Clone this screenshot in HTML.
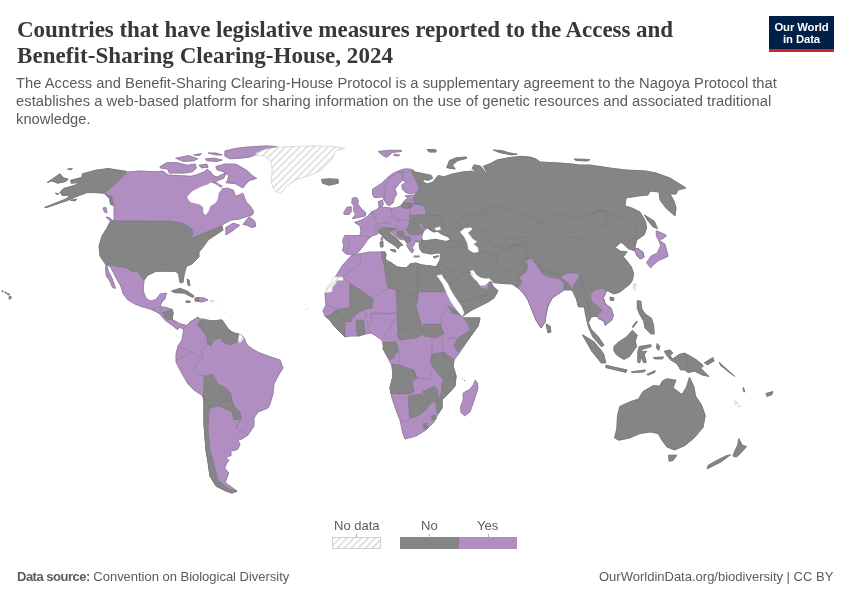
<!DOCTYPE html>
<html><head><meta charset="utf-8">
<style>
html,body{margin:0;padding:0;background:#fff;}
body{width:850px;height:600px;position:relative;overflow:hidden;font-family:"Liberation Sans",sans-serif;}
.t{position:absolute;white-space:nowrap;-webkit-font-smoothing:antialiased;will-change:transform;}
.ti{left:16.6px;font-family:"Liberation Serif",serif;font-weight:bold;font-size:23px;line-height:25px;color:#383838;letter-spacing:-0.045px;}
.su{left:15.8px;margin-top:-0.6px;transform:scaleY(1.04);transform-origin:0 0;font-size:14.75px;line-height:17px;color:#5b5b5b;}
#logo{position:absolute;left:769px;top:16px;width:65px;height:36px;background:#002147;box-sizing:border-box;}
#logo div{-webkit-font-smoothing:antialiased;will-change:transform;position:absolute;left:0;width:65px;text-align:center;color:#fff;font-weight:bold;font-size:11.3px;line-height:12px;letter-spacing:-0.1px;}
#logobar{position:absolute;left:769px;top:49px;width:65px;height:3px;background:#ce261e;}
.ft{font-size:13px;color:#5b5b5b;line-height:15px;}
.lg{font-size:13px;color:#5b5b5b;line-height:15px;}
svg{position:absolute;left:0;top:0;}
</style></head><body>
<div class="t ti" style="top:17px">Countries that have legislative measures reported to the Access and</div>
<div class="t ti" style="top:42.5px;letter-spacing:0.065px">Benefit-Sharing Clearing-House, 2024</div>
<div class="t su" style="top:75px">The Access and Benefit-Sharing Clearing-House Protocol is a supplementary agreement to the Nagoya Protocol that</div>
<div class="t su" style="top:92.75px;letter-spacing:0.03px">establishes a web-based platform for sharing information on the use of genetic resources and associated traditional</div>
<div class="t su" style="top:110.5px">knowledge.</div>
<div id="logo"><div style="top:4.5px">Our World</div><div style="top:16.8px">in Data</div></div>
<div id="logobar"></div>
<svg width="850" height="600" viewBox="0 0 850 600">
<defs><pattern id="h" patternUnits="userSpaceOnUse" width="5" height="5" patternTransform="rotate(45)"><rect width="5" height="5" fill="#fff"/><rect width="1.6" height="5" fill="#dcdcdc"/></pattern></defs>
<path d="M127.1,171.5 108.2,168.5 95.3,170.3 82.4,173.8 81.8,177.4 75.3,179.1 70.6,180.3 71.2,183.2 80.0,182.6 74.1,185.6 63.5,188.5 60.0,192.6 62.4,195.6 69.4,195.0 67.1,198.5 44.7,207.4 47.1,207.4 69.4,199.7 78.8,195.6 87.1,192.6 94.1,192.6 104.7,193.2 108.2,195.6 111.8,196.2 112.9,202.1 114.1,205.6 110.6,204.4 109.4,198.5 105.3,194.4ZM47.1,182.6 60.0,173.8 63.5,177.9 68.2,179.1 65.9,181.5 57.6,183.2 51.8,180.9ZM67.6,169.1 72.4,168.5 70.6,169.7ZM55.3,193.2 58.8,193.8 57.0,194.5ZM70.6,200.3 76.5,199.1 75.3,200.9Z" fill="#858585" stroke="#858585" stroke-width="0.9" stroke-linejoin="round"/>
<path d="M128.0,172.0 140.0,171.0 155.0,171.8 162.8,171.1 168.0,175.0 178.3,175.6 191.2,176.3 197.7,174.4 204.2,171.8 206.8,169.2 210.6,171.8 213.2,175.6 217.1,177.0 222.3,174.4 226.2,173.1 223.6,178.2 217.1,180.8 213.0,182.5 219.5,186.9 221.6,189.1 226.9,188.0 233.3,190.1 235.5,196.5 242.9,193.3 246.1,201.9 250.4,206.1 253.6,211.5 252.5,214.7 246.1,216.8 239.7,218.9 231.2,220.0 224.8,223.2 220.5,226.4 216.0,228.0 202.0,234.0 189.0,239.0 192.0,231.0 186.0,224.0 170.0,221.6 150.0,221.0 112.0,221.0 114.0,220.0 114.1,205.6 112.9,202.1 111.8,196.2 108.2,195.6 105.0,193.0ZM242.9,224.3 249.3,216.8 254.7,221.1 255.7,226.4 251.5,227.5 247.2,225.3ZM225.9,227.5 233.3,223.2 239.7,225.3 231.2,231.7 225.9,234.9ZM215.8,166.6 224.9,164.0 235.2,164.0 240.4,166.6 246.9,170.5 250.8,174.4 256.0,178.2 256.8,178.4 249.3,180.5 246.1,183.7 242.9,188.0 235.5,183.7 225.9,182.7 227.5,180.8 228.8,175.6 223.6,171.8 217.1,169.8ZM160.2,166.6 166.6,162.7 177.0,162.7 187.4,165.3 195.1,164.0 196.4,167.9 192.5,171.8 184.8,173.1 178.3,173.1 169.2,173.1 168.0,169.2 160.2,167.9ZM175.7,158.2 188.6,155.6 197.7,158.8 193.8,160.8 183.5,161.4ZM199.0,165.3 206.8,164.0 208.1,167.2 201.6,167.9ZM224.9,151.1 235.2,148.5 245.6,147.2 265.0,145.9 277.0,146.6 268.0,149.5 260.0,153.0 250.0,157.0 240.0,158.3 230.0,158.8 224.9,156.2ZM205.5,158.8 214.5,158.2 222.3,160.1 217.1,161.4 206.8,160.8ZM208.1,153.0 215.8,153.0 222.3,154.9 215.8,154.9ZM193.8,154.9 201.6,153.6 199.0,155.6ZM210.6,182.6 216.0,182.4 222.3,186.5 214.0,186.0ZM103.0,208.0 106.0,207.5 107.0,213.0 104.5,212.0ZM106.0,217.0 110.0,218.0 114.0,222.0 112.0,222.5Z" fill="#b08ec2" stroke="#b08ec2" stroke-width="0.9" stroke-linejoin="round"/>
<path d="M111.0,221.0 170.0,221.0 182.0,223.0 192.0,229.0 193.0,234.0 189.0,240.0 202.0,234.0 218.0,228.0 222.0,226.0 223.0,230.0 214.0,236.0 208.0,240.0 204.0,246.0 199.0,252.0 199.0,257.0 192.0,264.0 186.4,266.3 184.3,274.1 182.9,282.6 180.0,282.6 178.6,274.1 175.8,271.3 165.9,271.3 156.0,271.3 147.4,275.5 143.9,280.5 137.5,271.3 132.6,272.0 125.5,267.7 116.3,266.3 105.6,264.2 100.0,256.0 99.0,246.0 102.0,236.0 107.0,228.0 110.0,222.0Z" fill="#858585" stroke="#858585" stroke-width="0.9" stroke-linejoin="round"/>
<path d="M414.2,171.8 421.3,173.2 431.2,175.4 432.6,178.2 428.4,180.3 424.1,179.6 422.7,181.7 426.9,183.8 432.6,182.4 435.4,178.9 438.2,175.4 443.9,176.8 452.4,173.9 463.6,171.8 472.1,171.1 477.8,174.6 472.1,168.3 474.2,164.8 480.6,166.2 483.4,169.7 486.9,174.6 489.1,178.2 486.2,171.1 483.4,166.2 490.5,163.4 497.5,159.8 508.8,157.7 520.1,156.3 530.0,157.0 536.0,159.0 540.0,162.0 560.0,163.0 572.0,164.0 580.0,165.0 590.0,165.0 610.0,168.0 626.0,170.0 646.0,171.0 656.0,173.0 670.0,178.0 678.0,183.0 686.0,188.0 678.0,190.0 676.0,194.0 670.0,194.0 674.0,201.0 676.0,208.0 675.0,216.0 666.0,208.0 660.0,200.0 659.0,192.0 650.0,191.0 648.0,195.0 638.0,196.0 626.0,198.0 625.0,206.0 632.0,208.0 640.0,212.0 645.5,221.5 646.6,228.0 644.4,234.5 640.1,237.7 636.8,239.9 635.7,244.2 634.7,248.6 638.4,248.6 643.3,252.9 643.9,257.2 640.1,258.9 637.4,256.2 634.7,250.7 628.2,248.6 622.7,243.2 620.6,242.6 615.2,247.5 620.6,251.3 627.1,251.8 623.3,256.7 626.5,260.5 631.4,267.0 633.6,273.5 632.5,280.0 630.0,284.0 620.0,292.0 614.0,294.0 608.0,291.0 606.1,290.6 605.4,293.5 603.3,297.7 605.4,304.1 611.1,308.3 613.2,315.4 611.8,319.7 605.4,325.4 604.0,321.1 598.3,318.3 597.6,316.1 591.3,316.9 588.4,322.5 591.3,329.6 598.3,336.7 604.0,345.2 601.2,346.6 592.7,336.7 588.4,326.8 586.3,318.3 584.2,306.9 578.5,306.9 576.0,298.0 572.0,290.0 564.0,290.0 558.0,294.0 552.0,298.0 548.0,306.0 546.0,314.0 545.0,322.0 541.0,328.0 536.0,320.0 532.0,310.0 528.0,300.0 524.0,294.0 518.0,288.0 512.0,284.0 501.7,283.5 492.6,282.4 490.3,280.7 493.2,286.4 497.1,289.8 498.0,291.0 494.0,298.0 488.0,302.0 480.0,306.0 472.0,310.0 463.0,316.0 461.0,316.0 456.0,304.0 450.0,292.0 446.0,282.0 442.0,274.0 440.0,271.0 436.0,267.0 440.0,260.0 440.5,253.3 438.1,252.9 431.5,254.1 422.4,252.5 420.0,249.2 419.1,244.2 420.0,242.0 422.0,239.3 424.0,240.9 429.8,240.1 435.6,239.3 441.4,240.5 446.3,241.4 450.4,239.7 448.0,236.8 442.2,234.4 437.2,231.1 434.0,231.9 430.6,230.2 427.4,227.8 436.0,228.0 444.0,226.0 440.0,216.0 430.0,215.5 425.0,215.0 426.3,211.0 423.3,205.8 415.0,204.2 413.3,200.0 415.0,195.0 415.8,193.3 419.2,189.2 417.5,184.2 415.0,178.3 411.7,173.3 413.3,170.0ZM446.7,167.6 449.5,160.5 456.6,157.7 466.5,157.0 466.5,158.4 458.0,160.5 452.4,164.8 455.2,169.0 449.5,168.3ZM493.3,150.0 501.8,150.6 508.8,152.8 517.3,154.2 511.7,154.9 500.4,152.8ZM426.9,149.6 435.4,149.6 431.2,151.0ZM574.0,159.0 590.0,159.5 588.0,161.0 576.0,160.5ZM644.4,215.0 654.2,221.0 657.4,228.5 653.1,226.9 647.7,220.4Z" fill="#858585" stroke="#858585" stroke-width="0.9" stroke-linejoin="round"/>
<path d="M321.4,179.4 329.1,178.8 338.2,179.4 338.2,183.3 329.1,185.2 322.6,183.3Z" fill="#858585" stroke="#858585" stroke-width="0.9" stroke-linejoin="round"/>
<path d="M378.2,151.5 384.8,150.7 388.9,150.3 401.3,150.3 401.3,151.5 392.2,152.4 388.9,155.6 386.5,157.3 382.4,155.2ZM393.9,154.4 399.7,155.0 398.0,155.8 394.0,155.6Z" fill="#b08ec2" stroke="#b08ec2" stroke-width="0.9" stroke-linejoin="round"/>
<path d="M428.0,150.0 436.0,150.0 436.0,152.0 429.0,152.0Z" fill="#858585" stroke="#858585" stroke-width="0.9" stroke-linejoin="round"/>
<path d="M105.6,264.2 116.3,266.3 125.5,267.7 132.6,272.0 137.5,271.3 143.9,280.5 143.2,291.1 146.0,298.2 150.3,301.0 156.0,299.6 160.2,293.9 166.6,293.2 164.5,299.6 161.6,302.4 160.2,306.0 158.8,312.4 151.7,309.5 141.8,306.7 134.7,303.9 127.6,299.6 123.3,293.9 120.5,285.4 114.8,275.5 110.6,267.0ZM106.3,264.2 108.5,271.3 112.0,278.3 115.6,288.3 112.7,287.6 109.2,279.8 106.3,276.2 105.6,268.4Z" fill="#b08ec2" stroke="#b08ec2" stroke-width="0.9" stroke-linejoin="round"/>
<path d="M160.2,306.0 161.6,306.7 165.9,307.4 172.2,309.5 173.0,313.1 172.2,316.6 172.2,319.5 180.0,323.7 185.7,325.1 188.5,328.0 185.7,330.8 180.0,327.3 177.2,329.4 170.1,323.7 165.9,320.9 158.8,313.1 151.7,309.5Z" fill="#b08ec2" stroke="#b08ec2" stroke-width="0.9" stroke-linejoin="round"/>
<path d="M163.0,312.4 172.2,309.5 173.0,313.1 172.2,319.5 167.3,319.5 163.0,315.2Z" fill="#858585" stroke="#858585" stroke-width="0.9" stroke-linejoin="round"/>
<path d="M171.5,291.1 180.0,288.3 187.1,291.1 194.2,296.1 192.8,297.5 184.3,293.2 174.4,292.5Z" fill="#858585" stroke="#858585" stroke-width="0.9" stroke-linejoin="round"/>
<path d="M195.0,298.0 199.0,297.6 199.0,301.6 195.0,301.0Z" fill="#858585" stroke="#858585" stroke-width="0.9" stroke-linejoin="round"/>
<path d="M199.0,297.6 204.0,298.0 208.0,300.0 202.0,302.0 199.0,301.6Z" fill="#b08ec2" stroke="#b08ec2" stroke-width="0.9" stroke-linejoin="round"/>
<path d="M186.0,301.0 190.0,301.0 190.0,302.5 186.0,302.5Z" fill="#858585" stroke="#858585" stroke-width="0.9" stroke-linejoin="round"/>
<path d="M187.0,279.0 189.0,280.0 190.0,286.0 188.0,285.0Z" fill="#858585" stroke="#858585" stroke-width="0.9" stroke-linejoin="round"/>
<path d="M184.0,328.0 190.0,322.0 198.0,317.0 200.0,319.0 203.0,319.0 212.0,321.0 222.0,320.0 226.0,326.0 229.0,330.0 234.0,333.0 238.0,334.0 242.0,335.0 244.0,338.0 247.0,345.0 254.0,350.0 260.0,353.0 268.0,356.0 280.0,360.0 283.0,368.0 278.0,376.0 274.0,384.0 273.0,394.0 270.0,404.0 268.0,408.0 258.0,412.0 254.0,418.0 254.0,426.0 248.0,435.0 242.0,439.0 238.0,440.0 240.0,444.7 237.6,449.4 230.6,451.2 231.2,455.3 225.9,457.6 228.8,460.6 226.5,463.5 224.7,468.2 228.8,472.9 226.5,478.8 225.3,482.4 228.2,484.7 237.1,491.2 232.0,493.0 226.0,491.0 216.0,486.0 210.0,476.0 208.0,462.0 206.0,450.0 204.0,424.0 204.0,400.0 203.0,396.0 194.0,390.0 188.0,384.0 180.0,370.0 176.0,362.0 176.0,354.0 178.0,346.0 182.0,340.0 183.0,334.0Z" fill="#b08ec2" stroke="#b08ec2" stroke-width="0.9" stroke-linejoin="round"/>
<path d="M200.0,320.0 212.0,321.0 222.0,320.0 226.0,326.0 229.0,330.0 234.0,333.0 239.0,334.0 238.0,342.0 230.0,345.0 224.0,343.0 220.0,338.0 214.0,340.0 211.0,346.0 208.0,344.0 207.0,336.0 202.0,330.0 197.0,325.0Z" fill="#858585" stroke="#858585" stroke-width="0.9" stroke-linejoin="round"/>
<path d="M204.0,376.0 213.0,374.4 218.0,384.0 226.0,388.0 231.0,394.0 232.0,400.0 222.0,401.0 218.0,406.0 210.0,408.0 205.0,406.0 203.0,396.0 204.0,386.0Z" fill="#858585" stroke="#858585" stroke-width="0.9" stroke-linejoin="round"/>
<path d="M222.0,401.0 232.0,400.0 234.0,406.0 240.0,412.0 241.0,419.0 234.0,420.0 232.0,412.0 224.0,408.0 218.0,406.0Z" fill="#858585" stroke="#858585" stroke-width="0.9" stroke-linejoin="round"/>
<path d="M203.0,396.0 210.0,408.0 209.0,412.0 208.0,430.0 210.0,450.0 214.0,464.0 218.0,480.0 229.0,489.0 237.0,491.0 232.0,493.0 226.0,491.0 216.0,486.0 210.0,476.0 208.0,462.0 206.0,450.0 204.0,424.0 204.0,400.0Z" fill="#858585" stroke="#858585" stroke-width="0.9" stroke-linejoin="round"/>
<path d="M372.5,189.2 376.7,186.7 381.7,183.3 386.7,178.3 391.7,174.2 396.7,171.7 403.3,169.2 408.3,168.8 413.3,170.0 411.7,173.3 415.0,178.3 417.5,184.2 419.2,189.2 416.7,192.5 410.0,193.8 405.8,192.5 402.5,189.2 401.7,185.0 406.7,181.7 402.5,180.4 399.2,183.3 395.0,189.2 396.7,194.2 394.2,198.3 393.3,202.5 389.2,205.8 386.7,204.2 384.2,200.0 382.5,196.7 378.3,197.5 374.2,197.5 372.5,194.2Z" fill="#b08ec2" stroke="#b08ec2" stroke-width="0.9" stroke-linejoin="round"/>
<path d="M378.3,201.7 382.5,200.0 383.3,204.2 381.7,206.7 379.2,206.7Z" fill="#b08ec2" stroke="#b08ec2" stroke-width="0.9" stroke-linejoin="round"/>
<path d="M352.3,198.1 356.7,197.6 358.3,200.8 357.7,204.1 362.1,209.5 365.9,212.7 365.3,216.0 359.9,217.1 352.3,218.7 355.6,214.4 353.4,210.6 354.0,206.2 351.8,203.0ZM343.7,212.7 346.9,207.3 351.2,206.8 351.2,211.7 349.1,214.4 344.2,214.4Z" fill="#b08ec2" stroke="#b08ec2" stroke-width="0.9" stroke-linejoin="round"/>
<path d="M379.2,206.7 383.7,207.3 387.5,207.5 391.7,208.3 396.7,207.5 400.8,205.8 403.3,202.5 405.0,200.0 408.3,198.3 405.0,195.8 415.0,195.0 413.3,200.0 415.0,204.2 423.3,205.8 426.3,211.0 425.0,215.0 424.0,222.0 427.4,227.8 423.2,231.9 421.6,236.8 422.0,239.3 420.0,242.0 415.0,242.0 414.0,245.0 412.0,248.0 414.0,250.0 412.0,253.0 409.5,250.0 407.0,246.0 407.0,243.0 405.5,241.0 404.0,238.5 403.0,240.0 399.0,239.0 394.0,235.0 390.0,231.0 390.0,228.0 383.0,228.0 378.3,232.2 377.2,234.4 372.9,235.5 369.7,237.7 367.5,239.8 363.2,246.3 357.7,252.8 352.3,255.0 345.8,253.9 342.6,250.7 343.7,245.2 342.6,240.9 344.7,235.5 352.3,235.5 359.9,235.5 361.0,231.2 359.9,225.7 354.5,222.5 361.0,220.3 367.5,216.5 370.7,212.7 374.0,210.6 377.2,209.5Z" fill="#b08ec2" stroke="#b08ec2" stroke-width="0.9" stroke-linejoin="round"/>
<path d="M378.0,230.0 383.0,228.0 390.0,228.0 391.0,230.5 389.0,231.5 392.0,235.0 397.0,239.0 402.0,244.0 403.0,245.0 400.0,246.0 398.0,249.0 396.5,247.0 394.0,245.0 389.0,242.0 385.0,239.0 382.0,235.0 379.0,233.0ZM390.0,249.5 395.0,249.5 396.0,252.0 392.0,251.0ZM380.0,242.0 383.0,241.5 383.0,247.0 380.5,247.0Z" fill="#858585" stroke="#858585" stroke-width="0.9" stroke-linejoin="round"/>
<path d="M381.5,237.0 383.0,236.5 382.5,240.5 381.0,240.0Z" fill="#b08ec2" stroke="#b08ec2" stroke-width="0.9" stroke-linejoin="round"/>
<path d="M390.0,228.0 395.0,228.0 395.0,230.0 391.0,230.5Z" fill="#858585" stroke="#858585" stroke-width="0.9" stroke-linejoin="round"/>
<path d="M396.0,231.5 403.0,231.0 404.5,235.0 402.0,238.0 398.0,236.0Z" fill="#858585" stroke="#858585" stroke-width="0.9" stroke-linejoin="round"/>
<path d="M404.5,235.5 410.0,238.0 411.0,240.5 407.0,243.0 405.5,241.0 404.0,238.5Z" fill="#858585" stroke="#858585" stroke-width="0.9" stroke-linejoin="round"/>
<path d="M409.0,224.0 418.0,223.0 423.0,228.0 423.2,231.9 421.7,234.0 417.0,234.5 410.0,234.5 406.0,230.0 408.0,226.0Z" fill="#858585" stroke="#858585" stroke-width="0.9" stroke-linejoin="round"/>
<path d="M409.2,215.4 415.0,215.0 421.7,214.6 425.0,215.0 430.0,215.5 440.0,216.0 444.0,226.0 440.5,229.4 437.2,231.1 434.0,231.9 430.6,230.2 427.4,227.8 424.0,228.0 422.0,224.0 418.0,223.0 413.3,223.3 408.3,222.5 410.0,219.2Z" fill="#858585" stroke="#858585" stroke-width="0.9" stroke-linejoin="round"/>
<path d="M418.0,223.0 422.0,224.0 424.0,228.0 422.0,230.0 420.5,227.0Z" fill="#b08ec2" stroke="#b08ec2" stroke-width="0.9" stroke-linejoin="round"/>
<path d="M414.0,256.0 419.5,256.0 419.0,257.0 414.0,257.0Z" fill="#b08ec2" stroke="#b08ec2" stroke-width="0.9" stroke-linejoin="round"/>
<path d="M433.1,256.6 438.9,255.8 434.8,258.2Z" fill="#858585" stroke="#858585" stroke-width="0.9" stroke-linejoin="round"/>
<path d="M401.0,205.5 403.5,203.0 410.0,202.5 413.0,204.0 412.0,207.5 406.0,208.5 402.0,207.5Z" fill="#858585" stroke="#858585" stroke-width="0.9" stroke-linejoin="round"/>
<path d="M476.7,281.3 479.0,281.8 480.1,285.2 484.7,285.2 489.2,281.3 488.6,285.8 486.9,289.8 480.7,288.1 478.4,284.7Z" fill="#b08ec2" stroke="#b08ec2" stroke-width="0.9" stroke-linejoin="round"/>
<path d="M524.0,260.0 532.0,258.0 536.0,264.0 540.0,270.0 544.0,274.0 560.0,278.0 564.0,284.0 564.0,290.0 558.0,294.0 552.0,298.0 548.0,306.0 546.0,314.0 545.0,322.0 541.0,328.0 536.0,320.0 532.0,310.0 528.0,300.0 524.0,294.0 518.0,288.0 522.0,282.0 519.0,277.0 526.0,272.0 528.0,266.0ZM560.0,277.0 568.0,273.0 576.0,273.0 580.0,276.0 574.0,284.0 572.0,289.0 569.0,284.0 564.0,280.0Z" fill="#b08ec2" stroke="#b08ec2" stroke-width="0.9" stroke-linejoin="round"/>
<path d="M546.0,324.0 550.0,326.0 551.0,332.0 548.0,333.0Z" fill="#858585" stroke="#858585" stroke-width="0.9" stroke-linejoin="round"/>
<path d="M634.7,248.6 638.4,248.6 643.3,252.9 643.9,257.2 640.1,258.9 637.4,256.2 634.7,250.7Z" fill="#b08ec2" stroke="#b08ec2" stroke-width="0.9" stroke-linejoin="round"/>
<path d="M656.3,230.7 665.0,234.5 666.6,235.6 662.8,238.8 658.5,239.4 656.3,236.1ZM658.5,239.9 665.0,244.2 667.2,252.9 668.2,256.2 663.9,258.3 658.5,260.5 652.0,265.9 650.9,268.1 646.6,262.7 650.9,256.2 657.4,252.9 660.7,245.3Z" fill="#b08ec2" stroke="#b08ec2" stroke-width="0.9" stroke-linejoin="round"/>
<path d="M602.6,288.5 606.1,290.6 605.4,293.5 603.3,297.7 605.4,304.1 611.1,308.3 613.2,315.4 611.8,319.7 605.4,325.4 604.0,321.1 598.3,318.3 597.6,314.0 602.6,310.5 598.3,306.9 591.3,301.3 590.6,294.2 594.8,289.9Z" fill="#b08ec2" stroke="#b08ec2" stroke-width="0.9" stroke-linejoin="round"/>
<path d="M637.3,300.6 640.9,301.3 641.6,308.3 645.1,314.0 651.5,318.3 653.6,325.4 654.3,333.9 650.8,333.9 645.1,328.2 643.7,321.1 639.5,314.0 637.3,308.3ZM636.6,321.1 632.4,326.8 633.1,327.5 637.3,321.8Z" fill="#858585" stroke="#858585" stroke-width="0.9" stroke-linejoin="round"/>
<path d="M582.4,334.7 594.1,341.8 603.5,353.5 605.9,362.9 601.2,362.9 591.8,351.2ZM613.9,346.6 618.2,342.4 626.7,336.7 632.4,330.3 637.3,335.3 635.2,341.0 636.6,346.6 629.5,356.5 623.9,359.4 616.8,355.1 613.9,350.9ZM605.9,365.3 627.1,370.0 625.9,372.4 605.9,367.6ZM631.3,371.9 645.5,369.9 644.2,371.9 633.9,372.5ZM646.8,374.5 655.2,370.6 654.6,372.5 648.1,375.1ZM639.1,346.6 650.7,344.7 651.4,346.6 642.9,349.2 640.4,351.8 646.8,351.2 644.2,354.4 646.2,362.2 643.6,362.8 641.6,357.0 639.7,362.8 637.8,362.2 637.8,351.8ZM657.2,343.4 659.8,346.6 658.5,350.5 656.5,347.9ZM653.3,357.6 663.6,357.0 662.4,358.9 654.6,358.9ZM664.3,351.2 670.1,349.9 672.7,353.1 670.1,355.7 672.7,358.9 679.2,354.4 684.4,353.1 689.5,355.7 696.0,359.6 702.5,364.8 703.1,366.7 699.9,367.4 708.9,376.4 702.5,375.1 694.7,371.2 688.2,372.5 684.4,369.9 680.5,369.9 679.2,367.4 676.6,363.5 670.1,359.6 666.2,354.4ZM704.4,362.8 712.8,357.6 714.1,360.9 707.6,364.8ZM719.3,362.2 723.2,366.1 734.8,376.4 731.0,373.8 720.6,365.4Z" fill="#858585" stroke="#858585" stroke-width="0.9" stroke-linejoin="round"/>
<path d="M614.5,438.0 616.8,429.0 617.5,415.5 619.8,406.5 629.5,402.0 638.5,399.0 643.0,391.5 653.5,385.5 659.5,386.2 662.5,381.0 667.0,378.8 676.0,380.2 673.0,387.8 682.0,394.5 686.5,387.0 689.5,377.2 694.0,387.0 695.5,396.0 701.5,405.0 705.2,415.5 703.0,427.5 694.0,438.0 685.0,445.5 674.5,450.0 667.0,447.0 662.5,441.0 658.0,433.5 650.5,432.0 640.0,433.5 629.5,438.0 619.0,440.2ZM668.5,455.2 676.8,455.2 673.0,460.5 669.2,461.2ZM738.8,438.7 742.4,445.3 746.6,446.5 742.4,451.2 736.5,457.1 732.9,455.9 735.3,450.0 737.6,445.3ZM730.6,454.7 721.2,461.8 711.8,466.5 707.1,468.8 708.2,465.3 716.5,460.6 725.9,455.9ZM765.9,393.5 773.0,391.6 771.8,394.7 767.1,396.4ZM743.5,387.6 744.7,391.6 744.0,392.1 743.0,388.8Z" fill="#858585" stroke="#858585" stroke-width="0.9" stroke-linejoin="round"/>
<path d="M342.0,266.0 350.0,257.0 353.0,255.0 364.0,253.0 370.0,252.0 380.0,252.0 385.0,252.0 386.0,255.0 385.0,259.0 390.0,262.0 397.0,267.0 406.0,268.0 410.0,264.0 416.0,263.0 422.0,265.0 430.0,266.0 438.0,267.0 441.0,272.0 440.0,276.0 448.0,288.0 454.0,300.0 460.0,310.0 462.0,316.0 464.0,318.0 480.0,318.0 478.0,326.0 468.0,340.0 460.0,352.0 454.0,360.0 453.0,366.0 456.0,376.0 455.0,386.0 448.0,394.0 442.0,400.0 442.0,408.0 438.0,414.0 434.0,422.0 426.0,430.0 416.0,436.0 405.0,439.0 403.0,434.0 400.0,420.0 396.0,410.0 392.0,398.0 390.0,388.0 393.0,376.0 392.0,366.0 388.0,358.0 384.0,350.0 382.0,340.0 376.0,336.0 371.0,333.0 365.0,334.0 358.0,336.0 350.0,336.0 345.0,337.0 339.0,331.0 334.0,326.0 330.0,320.0 325.0,316.0 323.0,310.5 326.0,305.0 325.5,300.0 325.0,293.0 326.0,292.0 332.0,282.0 336.0,276.0Z" fill="#b08ec2" stroke="#b08ec2" stroke-width="0.9" stroke-linejoin="round"/>
<path d="M384.0,265.0 387.0,263.0 390.0,262.0 397.0,267.0 406.0,268.0 410.0,264.0 416.0,263.0 418.0,264.0 418.0,298.0 396.0,290.0 388.0,288.0 386.0,280.0Z" fill="#858585" stroke="#858585" stroke-width="0.9" stroke-linejoin="round"/>
<path d="M418.0,264.0 422.0,265.0 430.0,266.0 438.0,267.0 441.0,272.0 440.0,276.0 448.0,288.0 450.0,292.0 418.0,292.0 418.0,268.0Z" fill="#858585" stroke="#858585" stroke-width="0.9" stroke-linejoin="round"/>
<path d="M381.0,252.0 385.0,252.0 386.0,255.0 385.0,259.0 387.0,263.0 384.0,265.0 382.0,260.0Z" fill="#858585" stroke="#858585" stroke-width="0.9" stroke-linejoin="round"/>
<path d="M396.0,290.0 418.0,298.0 418.0,300.0 416.0,306.0 420.0,320.0 406.0,328.0 398.0,330.0 397.0,312.0Z" fill="#858585" stroke="#858585" stroke-width="0.9" stroke-linejoin="round"/>
<path d="M398.0,330.0 406.0,328.0 420.0,320.0 424.0,334.0 416.0,338.0 400.0,340.0 397.0,336.0Z" fill="#858585" stroke="#858585" stroke-width="0.9" stroke-linejoin="round"/>
<path d="M424.0,324.0 440.0,324.0 444.0,334.0 436.0,338.0 424.0,336.0 422.0,330.0Z" fill="#858585" stroke="#858585" stroke-width="0.9" stroke-linejoin="round"/>
<path d="M448.0,306.0 460.0,312.0 462.0,316.0 452.0,313.0Z" fill="#858585" stroke="#858585" stroke-width="0.9" stroke-linejoin="round"/>
<path d="M464.0,318.0 480.0,318.0 478.0,326.0 468.0,340.0 458.0,352.0 454.0,346.0 458.0,338.0 470.0,330.0 468.0,324.0Z" fill="#858585" stroke="#858585" stroke-width="0.9" stroke-linejoin="round"/>
<path d="M350.0,283.0 372.0,298.0 373.0,299.0 372.0,308.0 364.0,309.5 357.0,313.0 352.0,318.0 351.0,322.0 344.0,322.0 342.0,317.0 336.0,310.0 350.0,308.0Z" fill="#858585" stroke="#858585" stroke-width="0.9" stroke-linejoin="round"/>
<path d="M325.0,316.0 330.0,315.0 336.0,310.0 342.0,317.0 344.0,322.0 345.0,323.0 345.0,337.0 339.0,331.0 334.0,326.0 330.0,320.0Z" fill="#858585" stroke="#858585" stroke-width="0.9" stroke-linejoin="round"/>
<path d="M356.0,320.0 363.0,320.0 364.0,325.0 365.0,334.0 358.0,336.0 356.0,330.0Z" fill="#858585" stroke="#858585" stroke-width="0.9" stroke-linejoin="round"/>
<path d="M384.0,342.0 396.0,342.0 398.0,350.0 394.0,358.0 390.0,360.0 386.0,354.0 383.0,349.0Z" fill="#858585" stroke="#858585" stroke-width="0.9" stroke-linejoin="round"/>
<path d="M392.0,364.0 400.0,365.0 408.0,368.0 414.0,370.0 417.0,378.0 412.0,382.0 414.0,392.0 410.0,394.0 400.0,394.0 391.0,394.0 390.0,388.0 393.0,376.0Z" fill="#858585" stroke="#858585" stroke-width="0.9" stroke-linejoin="round"/>
<path d="M432.0,354.0 444.0,352.0 454.0,360.0 453.0,366.0 456.0,376.0 444.0,380.0 438.0,374.0 431.0,364.0Z" fill="#858585" stroke="#858585" stroke-width="0.9" stroke-linejoin="round"/>
<path d="M444.0,380.0 456.0,376.0 455.0,386.0 448.0,394.0 442.0,400.0 442.0,408.0 438.0,414.0 436.0,410.0 436.0,400.0 440.0,396.0 442.0,390.0 441.0,384.0Z" fill="#858585" stroke="#858585" stroke-width="0.9" stroke-linejoin="round"/>
<path d="M408.0,396.0 420.0,394.0 426.0,396.0 430.0,404.0 426.0,410.0 418.0,416.0 410.0,418.0 409.0,410.0Z" fill="#858585" stroke="#858585" stroke-width="0.9" stroke-linejoin="round"/>
<path d="M422.0,392.0 434.0,386.0 438.0,390.0 438.0,400.0 430.0,404.0 426.0,396.0Z" fill="#858585" stroke="#858585" stroke-width="0.9" stroke-linejoin="round"/>
<path d="M423.0,424.0 427.0,423.0 428.0,428.0 424.0,429.0Z" fill="#858585" stroke="#858585" stroke-width="0.9" stroke-linejoin="round"/>
<path d="M431.0,416.0 435.0,415.0 436.0,419.0 432.0,420.0Z" fill="#858585" stroke="#858585" stroke-width="0.9" stroke-linejoin="round"/>
<path d="M475.2,380.2 477.5,383.2 477.9,388.5 476.0,394.5 473.0,403.5 470.0,411.8 464.8,415.9 461.0,412.5 460.6,406.5 463.2,399.8 463.2,393.0 470.0,389.2 473.4,384.8Z" fill="#b08ec2" stroke="#b08ec2" stroke-width="0.9" stroke-linejoin="round"/>
<path d="M2.0,290.7 3.2,291.0 3.0,291.8 2.0,291.6ZM5.0,292.0 6.3,292.3 6.0,293.2 5.0,293.0ZM7.0,293.3 9.5,294.2 9.3,295.0 7.0,294.0ZM9.3,296.0 11.5,297.0 10.8,298.5 9.2,299.3Z" fill="#858585" stroke="#858585" stroke-width="0.9" stroke-linejoin="round"/>
<path d="M610.0,297.0 614.0,298.0 613.6,300.5 610.4,300.5Z" fill="#858585" stroke="#858585" stroke-width="0.9" stroke-linejoin="round"/>
<path d="M541.0,270.5 550.0,272.8 560.6,276.5 559.8,278.8 550.0,277.3 542.5,274.3Z" fill="#858585" stroke="#858585" stroke-width="0.9" stroke-linejoin="round"/>
<path d="M127.1,171.5 108.2,168.5 95.3,170.3 82.4,173.8 81.8,177.4 75.3,179.1 70.6,180.3 71.2,183.2 80.0,182.6 74.1,185.6 63.5,188.5 60.0,192.6 62.4,195.6 69.4,195.0 67.1,198.5 44.7,207.4 47.1,207.4 69.4,199.7 78.8,195.6 87.1,192.6 94.1,192.6 104.7,193.2 108.2,195.6 111.8,196.2 112.9,202.1 114.1,205.6 110.6,204.4 109.4,198.5 105.3,194.4ZM47.1,182.6 60.0,173.8 63.5,177.9 68.2,179.1 65.9,181.5 57.6,183.2 51.8,180.9ZM67.6,169.1 72.4,168.5 70.6,169.7ZM55.3,193.2 58.8,193.8 57.0,194.5ZM70.6,200.3 76.5,199.1 75.3,200.9Z" fill="#858585" stroke="#727272" stroke-width="0.4" stroke-linejoin="round"/>
<path d="M128.0,172.0 140.0,171.0 155.0,171.8 162.8,171.1 168.0,175.0 178.3,175.6 191.2,176.3 197.7,174.4 204.2,171.8 206.8,169.2 210.6,171.8 213.2,175.6 217.1,177.0 222.3,174.4 226.2,173.1 223.6,178.2 217.1,180.8 213.0,182.5 219.5,186.9 221.6,189.1 226.9,188.0 233.3,190.1 235.5,196.5 242.9,193.3 246.1,201.9 250.4,206.1 253.6,211.5 252.5,214.7 246.1,216.8 239.7,218.9 231.2,220.0 224.8,223.2 220.5,226.4 216.0,228.0 202.0,234.0 189.0,239.0 192.0,231.0 186.0,224.0 170.0,221.6 150.0,221.0 112.0,221.0 114.0,220.0 114.1,205.6 112.9,202.1 111.8,196.2 108.2,195.6 105.0,193.0ZM242.9,224.3 249.3,216.8 254.7,221.1 255.7,226.4 251.5,227.5 247.2,225.3ZM225.9,227.5 233.3,223.2 239.7,225.3 231.2,231.7 225.9,234.9ZM215.8,166.6 224.9,164.0 235.2,164.0 240.4,166.6 246.9,170.5 250.8,174.4 256.0,178.2 256.8,178.4 249.3,180.5 246.1,183.7 242.9,188.0 235.5,183.7 225.9,182.7 227.5,180.8 228.8,175.6 223.6,171.8 217.1,169.8ZM160.2,166.6 166.6,162.7 177.0,162.7 187.4,165.3 195.1,164.0 196.4,167.9 192.5,171.8 184.8,173.1 178.3,173.1 169.2,173.1 168.0,169.2 160.2,167.9ZM175.7,158.2 188.6,155.6 197.7,158.8 193.8,160.8 183.5,161.4ZM199.0,165.3 206.8,164.0 208.1,167.2 201.6,167.9ZM224.9,151.1 235.2,148.5 245.6,147.2 265.0,145.9 277.0,146.6 268.0,149.5 260.0,153.0 250.0,157.0 240.0,158.3 230.0,158.8 224.9,156.2ZM205.5,158.8 214.5,158.2 222.3,160.1 217.1,161.4 206.8,160.8ZM208.1,153.0 215.8,153.0 222.3,154.9 215.8,154.9ZM193.8,154.9 201.6,153.6 199.0,155.6ZM210.6,182.6 216.0,182.4 222.3,186.5 214.0,186.0ZM103.0,208.0 106.0,207.5 107.0,213.0 104.5,212.0ZM106.0,217.0 110.0,218.0 114.0,222.0 112.0,222.5Z" fill="#b08ec2" stroke="#727272" stroke-width="0.4" stroke-linejoin="round"/>
<path d="M255.4,153.5 264.4,149.6 277.4,147.1 296.8,146.4 316.2,145.8 333.0,146.4 344.7,148.4 335.6,150.9 333.0,157.4 327.8,163.9 321.4,170.4 309.7,175.5 296.8,179.4 286.4,185.9 281.2,193.6 274.8,191.1 270.9,182.0 272.2,170.4 270.9,161.3 264.4,156.1 256.6,155.5Z" fill="url(#h)" stroke="#c8c8c8" stroke-width="0.6"/>
<path d="M111.0,221.0 170.0,221.0 182.0,223.0 192.0,229.0 193.0,234.0 189.0,240.0 202.0,234.0 218.0,228.0 222.0,226.0 223.0,230.0 214.0,236.0 208.0,240.0 204.0,246.0 199.0,252.0 199.0,257.0 192.0,264.0 186.4,266.3 184.3,274.1 182.9,282.6 180.0,282.6 178.6,274.1 175.8,271.3 165.9,271.3 156.0,271.3 147.4,275.5 143.9,280.5 137.5,271.3 132.6,272.0 125.5,267.7 116.3,266.3 105.6,264.2 100.0,256.0 99.0,246.0 102.0,236.0 107.0,228.0 110.0,222.0Z" fill="#858585" stroke="#727272" stroke-width="0.4" stroke-linejoin="round"/>
<path d="M414.2,171.8 421.3,173.2 431.2,175.4 432.6,178.2 428.4,180.3 424.1,179.6 422.7,181.7 426.9,183.8 432.6,182.4 435.4,178.9 438.2,175.4 443.9,176.8 452.4,173.9 463.6,171.8 472.1,171.1 477.8,174.6 472.1,168.3 474.2,164.8 480.6,166.2 483.4,169.7 486.9,174.6 489.1,178.2 486.2,171.1 483.4,166.2 490.5,163.4 497.5,159.8 508.8,157.7 520.1,156.3 530.0,157.0 536.0,159.0 540.0,162.0 560.0,163.0 572.0,164.0 580.0,165.0 590.0,165.0 610.0,168.0 626.0,170.0 646.0,171.0 656.0,173.0 670.0,178.0 678.0,183.0 686.0,188.0 678.0,190.0 676.0,194.0 670.0,194.0 674.0,201.0 676.0,208.0 675.0,216.0 666.0,208.0 660.0,200.0 659.0,192.0 650.0,191.0 648.0,195.0 638.0,196.0 626.0,198.0 625.0,206.0 632.0,208.0 640.0,212.0 645.5,221.5 646.6,228.0 644.4,234.5 640.1,237.7 636.8,239.9 635.7,244.2 634.7,248.6 638.4,248.6 643.3,252.9 643.9,257.2 640.1,258.9 637.4,256.2 634.7,250.7 628.2,248.6 622.7,243.2 620.6,242.6 615.2,247.5 620.6,251.3 627.1,251.8 623.3,256.7 626.5,260.5 631.4,267.0 633.6,273.5 632.5,280.0 630.0,284.0 620.0,292.0 614.0,294.0 608.0,291.0 606.1,290.6 605.4,293.5 603.3,297.7 605.4,304.1 611.1,308.3 613.2,315.4 611.8,319.7 605.4,325.4 604.0,321.1 598.3,318.3 597.6,316.1 591.3,316.9 588.4,322.5 591.3,329.6 598.3,336.7 604.0,345.2 601.2,346.6 592.7,336.7 588.4,326.8 586.3,318.3 584.2,306.9 578.5,306.9 576.0,298.0 572.0,290.0 564.0,290.0 558.0,294.0 552.0,298.0 548.0,306.0 546.0,314.0 545.0,322.0 541.0,328.0 536.0,320.0 532.0,310.0 528.0,300.0 524.0,294.0 518.0,288.0 512.0,284.0 501.7,283.5 492.6,282.4 490.3,280.7 493.2,286.4 497.1,289.8 498.0,291.0 494.0,298.0 488.0,302.0 480.0,306.0 472.0,310.0 463.0,316.0 461.0,316.0 456.0,304.0 450.0,292.0 446.0,282.0 442.0,274.0 440.0,271.0 436.0,267.0 440.0,260.0 440.5,253.3 438.1,252.9 431.5,254.1 422.4,252.5 420.0,249.2 419.1,244.2 420.0,242.0 422.0,239.3 424.0,240.9 429.8,240.1 435.6,239.3 441.4,240.5 446.3,241.4 450.4,239.7 448.0,236.8 442.2,234.4 437.2,231.1 434.0,231.9 430.6,230.2 427.4,227.8 436.0,228.0 444.0,226.0 440.0,216.0 430.0,215.5 425.0,215.0 426.3,211.0 423.3,205.8 415.0,204.2 413.3,200.0 415.0,195.0 415.8,193.3 419.2,189.2 417.5,184.2 415.0,178.3 411.7,173.3 413.3,170.0ZM446.7,167.6 449.5,160.5 456.6,157.7 466.5,157.0 466.5,158.4 458.0,160.5 452.4,164.8 455.2,169.0 449.5,168.3ZM493.3,150.0 501.8,150.6 508.8,152.8 517.3,154.2 511.7,154.9 500.4,152.8ZM426.9,149.6 435.4,149.6 431.2,151.0ZM574.0,159.0 590.0,159.5 588.0,161.0 576.0,160.5ZM644.4,215.0 654.2,221.0 657.4,228.5 653.1,226.9 647.7,220.4Z" fill="#858585" stroke="#727272" stroke-width="0.4" stroke-linejoin="round"/>
<path d="M321.4,179.4 329.1,178.8 338.2,179.4 338.2,183.3 329.1,185.2 322.6,183.3Z" fill="#858585" stroke="#727272" stroke-width="0.4" stroke-linejoin="round"/>
<path d="M378.2,151.5 384.8,150.7 388.9,150.3 401.3,150.3 401.3,151.5 392.2,152.4 388.9,155.6 386.5,157.3 382.4,155.2ZM393.9,154.4 399.7,155.0 398.0,155.8 394.0,155.6Z" fill="#b08ec2" stroke="#727272" stroke-width="0.4" stroke-linejoin="round"/>
<path d="M428.0,150.0 436.0,150.0 436.0,152.0 429.0,152.0Z" fill="#858585" stroke="#727272" stroke-width="0.4" stroke-linejoin="round"/>
<path d="M105.6,264.2 116.3,266.3 125.5,267.7 132.6,272.0 137.5,271.3 143.9,280.5 143.2,291.1 146.0,298.2 150.3,301.0 156.0,299.6 160.2,293.9 166.6,293.2 164.5,299.6 161.6,302.4 160.2,306.0 158.8,312.4 151.7,309.5 141.8,306.7 134.7,303.9 127.6,299.6 123.3,293.9 120.5,285.4 114.8,275.5 110.6,267.0ZM106.3,264.2 108.5,271.3 112.0,278.3 115.6,288.3 112.7,287.6 109.2,279.8 106.3,276.2 105.6,268.4Z" fill="#b08ec2" stroke="#727272" stroke-width="0.4" stroke-linejoin="round"/>
<path d="M160.2,306.0 161.6,306.7 165.9,307.4 172.2,309.5 173.0,313.1 172.2,316.6 172.2,319.5 180.0,323.7 185.7,325.1 188.5,328.0 185.7,330.8 180.0,327.3 177.2,329.4 170.1,323.7 165.9,320.9 158.8,313.1 151.7,309.5Z" fill="#b08ec2" stroke="#727272" stroke-width="0.4" stroke-linejoin="round"/>
<path d="M163.0,312.4 172.2,309.5 173.0,313.1 172.2,319.5 167.3,319.5 163.0,315.2Z" fill="#858585" stroke="#727272" stroke-width="0.4" stroke-linejoin="round"/>
<path d="M171.5,291.1 180.0,288.3 187.1,291.1 194.2,296.1 192.8,297.5 184.3,293.2 174.4,292.5Z" fill="#858585" stroke="#727272" stroke-width="0.4" stroke-linejoin="round"/>
<path d="M195.0,298.0 199.0,297.6 199.0,301.6 195.0,301.0Z" fill="#858585" stroke="#727272" stroke-width="0.4" stroke-linejoin="round"/>
<path d="M199.0,297.6 204.0,298.0 208.0,300.0 202.0,302.0 199.0,301.6Z" fill="#b08ec2" stroke="#727272" stroke-width="0.4" stroke-linejoin="round"/>
<path d="M210.0,300.5 214.0,300.5 214.0,302.0 210.0,302.0Z" fill="url(#h)" stroke="#c8c8c8" stroke-width="0.6"/>
<path d="M186.0,301.0 190.0,301.0 190.0,302.5 186.0,302.5Z" fill="#858585" stroke="#727272" stroke-width="0.4" stroke-linejoin="round"/>
<path d="M187.0,279.0 189.0,280.0 190.0,286.0 188.0,285.0Z" fill="#858585" stroke="#727272" stroke-width="0.4" stroke-linejoin="round"/>
<path d="M184.0,328.0 190.0,322.0 198.0,317.0 200.0,319.0 203.0,319.0 212.0,321.0 222.0,320.0 226.0,326.0 229.0,330.0 234.0,333.0 238.0,334.0 242.0,335.0 244.0,338.0 247.0,345.0 254.0,350.0 260.0,353.0 268.0,356.0 280.0,360.0 283.0,368.0 278.0,376.0 274.0,384.0 273.0,394.0 270.0,404.0 268.0,408.0 258.0,412.0 254.0,418.0 254.0,426.0 248.0,435.0 242.0,439.0 238.0,440.0 240.0,444.7 237.6,449.4 230.6,451.2 231.2,455.3 225.9,457.6 228.8,460.6 226.5,463.5 224.7,468.2 228.8,472.9 226.5,478.8 225.3,482.4 228.2,484.7 237.1,491.2 232.0,493.0 226.0,491.0 216.0,486.0 210.0,476.0 208.0,462.0 206.0,450.0 204.0,424.0 204.0,400.0 203.0,396.0 194.0,390.0 188.0,384.0 180.0,370.0 176.0,362.0 176.0,354.0 178.0,346.0 182.0,340.0 183.0,334.0Z" fill="#b08ec2" stroke="#727272" stroke-width="0.4" stroke-linejoin="round"/>
<path d="M200.0,320.0 212.0,321.0 222.0,320.0 226.0,326.0 229.0,330.0 234.0,333.0 239.0,334.0 238.0,342.0 230.0,345.0 224.0,343.0 220.0,338.0 214.0,340.0 211.0,346.0 208.0,344.0 207.0,336.0 202.0,330.0 197.0,325.0Z" fill="#858585" stroke="#727272" stroke-width="0.4" stroke-linejoin="round"/>
<path d="M239.0,334.0 242.0,335.0 243.6,339.0 240.0,343.0 238.0,342.0Z" fill="url(#h)" stroke="#c8c8c8" stroke-width="0.6"/>
<path d="M204.0,376.0 213.0,374.4 218.0,384.0 226.0,388.0 231.0,394.0 232.0,400.0 222.0,401.0 218.0,406.0 210.0,408.0 205.0,406.0 203.0,396.0 204.0,386.0Z" fill="#858585" stroke="#727272" stroke-width="0.4" stroke-linejoin="round"/>
<path d="M222.0,401.0 232.0,400.0 234.0,406.0 240.0,412.0 241.0,419.0 234.0,420.0 232.0,412.0 224.0,408.0 218.0,406.0Z" fill="#858585" stroke="#727272" stroke-width="0.4" stroke-linejoin="round"/>
<path d="M203.0,396.0 210.0,408.0 209.0,412.0 208.0,430.0 210.0,450.0 214.0,464.0 218.0,480.0 229.0,489.0 237.0,491.0 232.0,493.0 226.0,491.0 216.0,486.0 210.0,476.0 208.0,462.0 206.0,450.0 204.0,424.0 204.0,400.0Z" fill="#858585" stroke="#727272" stroke-width="0.4" stroke-linejoin="round"/>
<path d="M372.5,189.2 376.7,186.7 381.7,183.3 386.7,178.3 391.7,174.2 396.7,171.7 403.3,169.2 408.3,168.8 413.3,170.0 411.7,173.3 415.0,178.3 417.5,184.2 419.2,189.2 416.7,192.5 410.0,193.8 405.8,192.5 402.5,189.2 401.7,185.0 406.7,181.7 402.5,180.4 399.2,183.3 395.0,189.2 396.7,194.2 394.2,198.3 393.3,202.5 389.2,205.8 386.7,204.2 384.2,200.0 382.5,196.7 378.3,197.5 374.2,197.5 372.5,194.2Z" fill="#b08ec2" stroke="#727272" stroke-width="0.4" stroke-linejoin="round"/>
<path d="M378.3,201.7 382.5,200.0 383.3,204.2 381.7,206.7 379.2,206.7Z" fill="#b08ec2" stroke="#727272" stroke-width="0.4" stroke-linejoin="round"/>
<path d="M352.3,198.1 356.7,197.6 358.3,200.8 357.7,204.1 362.1,209.5 365.9,212.7 365.3,216.0 359.9,217.1 352.3,218.7 355.6,214.4 353.4,210.6 354.0,206.2 351.8,203.0ZM343.7,212.7 346.9,207.3 351.2,206.8 351.2,211.7 349.1,214.4 344.2,214.4Z" fill="#b08ec2" stroke="#727272" stroke-width="0.4" stroke-linejoin="round"/>
<path d="M379.2,206.7 383.7,207.3 387.5,207.5 391.7,208.3 396.7,207.5 400.8,205.8 403.3,202.5 405.0,200.0 408.3,198.3 405.0,195.8 415.0,195.0 413.3,200.0 415.0,204.2 423.3,205.8 426.3,211.0 425.0,215.0 424.0,222.0 427.4,227.8 423.2,231.9 421.6,236.8 422.0,239.3 420.0,242.0 415.0,242.0 414.0,245.0 412.0,248.0 414.0,250.0 412.0,253.0 409.5,250.0 407.0,246.0 407.0,243.0 405.5,241.0 404.0,238.5 403.0,240.0 399.0,239.0 394.0,235.0 390.0,231.0 390.0,228.0 383.0,228.0 378.3,232.2 377.2,234.4 372.9,235.5 369.7,237.7 367.5,239.8 363.2,246.3 357.7,252.8 352.3,255.0 345.8,253.9 342.6,250.7 343.7,245.2 342.6,240.9 344.7,235.5 352.3,235.5 359.9,235.5 361.0,231.2 359.9,225.7 354.5,222.5 361.0,220.3 367.5,216.5 370.7,212.7 374.0,210.6 377.2,209.5Z" fill="#b08ec2" stroke="#727272" stroke-width="0.4" stroke-linejoin="round"/>
<path d="M378.0,230.0 383.0,228.0 390.0,228.0 391.0,230.5 389.0,231.5 392.0,235.0 397.0,239.0 402.0,244.0 403.0,245.0 400.0,246.0 398.0,249.0 396.5,247.0 394.0,245.0 389.0,242.0 385.0,239.0 382.0,235.0 379.0,233.0ZM390.0,249.5 395.0,249.5 396.0,252.0 392.0,251.0ZM380.0,242.0 383.0,241.5 383.0,247.0 380.5,247.0Z" fill="#858585" stroke="#727272" stroke-width="0.4" stroke-linejoin="round"/>
<path d="M381.5,237.0 383.0,236.5 382.5,240.5 381.0,240.0Z" fill="#b08ec2" stroke="#727272" stroke-width="0.4" stroke-linejoin="round"/>
<path d="M390.0,228.0 395.0,228.0 395.0,230.0 391.0,230.5Z" fill="#858585" stroke="#727272" stroke-width="0.4" stroke-linejoin="round"/>
<path d="M396.0,231.5 403.0,231.0 404.5,235.0 402.0,238.0 398.0,236.0Z" fill="#858585" stroke="#727272" stroke-width="0.4" stroke-linejoin="round"/>
<path d="M404.5,235.5 410.0,238.0 411.0,240.5 407.0,243.0 405.5,241.0 404.0,238.5Z" fill="#858585" stroke="#727272" stroke-width="0.4" stroke-linejoin="round"/>
<path d="M409.0,224.0 418.0,223.0 423.0,228.0 423.2,231.9 421.7,234.0 417.0,234.5 410.0,234.5 406.0,230.0 408.0,226.0Z" fill="#858585" stroke="#727272" stroke-width="0.4" stroke-linejoin="round"/>
<path d="M409.2,215.4 415.0,215.0 421.7,214.6 425.0,215.0 430.0,215.5 440.0,216.0 444.0,226.0 440.5,229.4 437.2,231.1 434.0,231.9 430.6,230.2 427.4,227.8 424.0,228.0 422.0,224.0 418.0,223.0 413.3,223.3 408.3,222.5 410.0,219.2Z" fill="#858585" stroke="#727272" stroke-width="0.4" stroke-linejoin="round"/>
<path d="M418.0,223.0 422.0,224.0 424.0,228.0 422.0,230.0 420.5,227.0Z" fill="#b08ec2" stroke="#727272" stroke-width="0.4" stroke-linejoin="round"/>
<path d="M414.0,256.0 419.5,256.0 419.0,257.0 414.0,257.0Z" fill="#b08ec2" stroke="#727272" stroke-width="0.4" stroke-linejoin="round"/>
<path d="M433.1,256.6 438.9,255.8 434.8,258.2Z" fill="#858585" stroke="#727272" stroke-width="0.4" stroke-linejoin="round"/>
<path d="M401.0,205.5 403.5,203.0 410.0,202.5 413.0,204.0 412.0,207.5 406.0,208.5 402.0,207.5Z" fill="#858585" stroke="#727272" stroke-width="0.4" stroke-linejoin="round"/>
<path d="M476.7,281.3 479.0,281.8 480.1,285.2 484.7,285.2 489.2,281.3 488.6,285.8 486.9,289.8 480.7,288.1 478.4,284.7Z" fill="#b08ec2" stroke="#727272" stroke-width="0.4" stroke-linejoin="round"/>
<path d="M524.0,260.0 532.0,258.0 536.0,264.0 540.0,270.0 544.0,274.0 560.0,278.0 564.0,284.0 564.0,290.0 558.0,294.0 552.0,298.0 548.0,306.0 546.0,314.0 545.0,322.0 541.0,328.0 536.0,320.0 532.0,310.0 528.0,300.0 524.0,294.0 518.0,288.0 522.0,282.0 519.0,277.0 526.0,272.0 528.0,266.0ZM560.0,277.0 568.0,273.0 576.0,273.0 580.0,276.0 574.0,284.0 572.0,289.0 569.0,284.0 564.0,280.0Z" fill="#b08ec2" stroke="#727272" stroke-width="0.4" stroke-linejoin="round"/>
<path d="M546.0,324.0 550.0,326.0 551.0,332.0 548.0,333.0Z" fill="#858585" stroke="#727272" stroke-width="0.4" stroke-linejoin="round"/>
<path d="M634.7,248.6 638.4,248.6 643.3,252.9 643.9,257.2 640.1,258.9 637.4,256.2 634.7,250.7Z" fill="#b08ec2" stroke="#727272" stroke-width="0.4" stroke-linejoin="round"/>
<path d="M656.3,230.7 665.0,234.5 666.6,235.6 662.8,238.8 658.5,239.4 656.3,236.1ZM658.5,239.9 665.0,244.2 667.2,252.9 668.2,256.2 663.9,258.3 658.5,260.5 652.0,265.9 650.9,268.1 646.6,262.7 650.9,256.2 657.4,252.9 660.7,245.3Z" fill="#b08ec2" stroke="#727272" stroke-width="0.4" stroke-linejoin="round"/>
<path d="M602.6,288.5 606.1,290.6 605.4,293.5 603.3,297.7 605.4,304.1 611.1,308.3 613.2,315.4 611.8,319.7 605.4,325.4 604.0,321.1 598.3,318.3 597.6,314.0 602.6,310.5 598.3,306.9 591.3,301.3 590.6,294.2 594.8,289.9Z" fill="#b08ec2" stroke="#727272" stroke-width="0.4" stroke-linejoin="round"/>
<path d="M634.0,283.0 636.0,284.0 635.0,291.0 633.0,288.0Z" fill="url(#h)" stroke="#c8c8c8" stroke-width="0.6"/>
<path d="M637.3,300.6 640.9,301.3 641.6,308.3 645.1,314.0 651.5,318.3 653.6,325.4 654.3,333.9 650.8,333.9 645.1,328.2 643.7,321.1 639.5,314.0 637.3,308.3ZM636.6,321.1 632.4,326.8 633.1,327.5 637.3,321.8Z" fill="#858585" stroke="#727272" stroke-width="0.4" stroke-linejoin="round"/>
<path d="M582.4,334.7 594.1,341.8 603.5,353.5 605.9,362.9 601.2,362.9 591.8,351.2ZM613.9,346.6 618.2,342.4 626.7,336.7 632.4,330.3 637.3,335.3 635.2,341.0 636.6,346.6 629.5,356.5 623.9,359.4 616.8,355.1 613.9,350.9ZM605.9,365.3 627.1,370.0 625.9,372.4 605.9,367.6ZM631.3,371.9 645.5,369.9 644.2,371.9 633.9,372.5ZM646.8,374.5 655.2,370.6 654.6,372.5 648.1,375.1ZM639.1,346.6 650.7,344.7 651.4,346.6 642.9,349.2 640.4,351.8 646.8,351.2 644.2,354.4 646.2,362.2 643.6,362.8 641.6,357.0 639.7,362.8 637.8,362.2 637.8,351.8ZM657.2,343.4 659.8,346.6 658.5,350.5 656.5,347.9ZM653.3,357.6 663.6,357.0 662.4,358.9 654.6,358.9ZM664.3,351.2 670.1,349.9 672.7,353.1 670.1,355.7 672.7,358.9 679.2,354.4 684.4,353.1 689.5,355.7 696.0,359.6 702.5,364.8 703.1,366.7 699.9,367.4 708.9,376.4 702.5,375.1 694.7,371.2 688.2,372.5 684.4,369.9 680.5,369.9 679.2,367.4 676.6,363.5 670.1,359.6 666.2,354.4ZM704.4,362.8 712.8,357.6 714.1,360.9 707.6,364.8ZM719.3,362.2 723.2,366.1 734.8,376.4 731.0,373.8 720.6,365.4Z" fill="#858585" stroke="#727272" stroke-width="0.4" stroke-linejoin="round"/>
<path d="M614.5,438.0 616.8,429.0 617.5,415.5 619.8,406.5 629.5,402.0 638.5,399.0 643.0,391.5 653.5,385.5 659.5,386.2 662.5,381.0 667.0,378.8 676.0,380.2 673.0,387.8 682.0,394.5 686.5,387.0 689.5,377.2 694.0,387.0 695.5,396.0 701.5,405.0 705.2,415.5 703.0,427.5 694.0,438.0 685.0,445.5 674.5,450.0 667.0,447.0 662.5,441.0 658.0,433.5 650.5,432.0 640.0,433.5 629.5,438.0 619.0,440.2ZM668.5,455.2 676.8,455.2 673.0,460.5 669.2,461.2ZM738.8,438.7 742.4,445.3 746.6,446.5 742.4,451.2 736.5,457.1 732.9,455.9 735.3,450.0 737.6,445.3ZM730.6,454.7 721.2,461.8 711.8,466.5 707.1,468.8 708.2,465.3 716.5,460.6 725.9,455.9ZM765.9,393.5 773.0,391.6 771.8,394.7 767.1,396.4ZM743.5,387.6 744.7,391.6 744.0,392.1 743.0,388.8Z" fill="#858585" stroke="#727272" stroke-width="0.4" stroke-linejoin="round"/>
<path d="M734.1,400.6 736.5,401.8 740.5,406.5 738.1,407.2 734.8,403.4Z" fill="url(#h)" stroke="#c8c8c8" stroke-width="0.6"/>
<path d="M342.0,266.0 350.0,257.0 353.0,255.0 364.0,253.0 370.0,252.0 380.0,252.0 385.0,252.0 386.0,255.0 385.0,259.0 390.0,262.0 397.0,267.0 406.0,268.0 410.0,264.0 416.0,263.0 422.0,265.0 430.0,266.0 438.0,267.0 441.0,272.0 440.0,276.0 448.0,288.0 454.0,300.0 460.0,310.0 462.0,316.0 464.0,318.0 480.0,318.0 478.0,326.0 468.0,340.0 460.0,352.0 454.0,360.0 453.0,366.0 456.0,376.0 455.0,386.0 448.0,394.0 442.0,400.0 442.0,408.0 438.0,414.0 434.0,422.0 426.0,430.0 416.0,436.0 405.0,439.0 403.0,434.0 400.0,420.0 396.0,410.0 392.0,398.0 390.0,388.0 393.0,376.0 392.0,366.0 388.0,358.0 384.0,350.0 382.0,340.0 376.0,336.0 371.0,333.0 365.0,334.0 358.0,336.0 350.0,336.0 345.0,337.0 339.0,331.0 334.0,326.0 330.0,320.0 325.0,316.0 323.0,310.5 326.0,305.0 325.5,300.0 325.0,293.0 326.0,292.0 332.0,282.0 336.0,276.0Z" fill="#b08ec2" stroke="#727272" stroke-width="0.4" stroke-linejoin="round"/>
<path d="M384.0,265.0 387.0,263.0 390.0,262.0 397.0,267.0 406.0,268.0 410.0,264.0 416.0,263.0 418.0,264.0 418.0,298.0 396.0,290.0 388.0,288.0 386.0,280.0Z" fill="#858585" stroke="#727272" stroke-width="0.4" stroke-linejoin="round"/>
<path d="M418.0,264.0 422.0,265.0 430.0,266.0 438.0,267.0 441.0,272.0 440.0,276.0 448.0,288.0 450.0,292.0 418.0,292.0 418.0,268.0Z" fill="#858585" stroke="#727272" stroke-width="0.4" stroke-linejoin="round"/>
<path d="M381.0,252.0 385.0,252.0 386.0,255.0 385.0,259.0 387.0,263.0 384.0,265.0 382.0,260.0Z" fill="#858585" stroke="#727272" stroke-width="0.4" stroke-linejoin="round"/>
<path d="M396.0,290.0 418.0,298.0 418.0,300.0 416.0,306.0 420.0,320.0 406.0,328.0 398.0,330.0 397.0,312.0Z" fill="#858585" stroke="#727272" stroke-width="0.4" stroke-linejoin="round"/>
<path d="M398.0,330.0 406.0,328.0 420.0,320.0 424.0,334.0 416.0,338.0 400.0,340.0 397.0,336.0Z" fill="#858585" stroke="#727272" stroke-width="0.4" stroke-linejoin="round"/>
<path d="M424.0,324.0 440.0,324.0 444.0,334.0 436.0,338.0 424.0,336.0 422.0,330.0Z" fill="#858585" stroke="#727272" stroke-width="0.4" stroke-linejoin="round"/>
<path d="M448.0,306.0 460.0,312.0 462.0,316.0 452.0,313.0Z" fill="#858585" stroke="#727272" stroke-width="0.4" stroke-linejoin="round"/>
<path d="M464.0,318.0 480.0,318.0 478.0,326.0 468.0,340.0 458.0,352.0 454.0,346.0 458.0,338.0 470.0,330.0 468.0,324.0Z" fill="#858585" stroke="#727272" stroke-width="0.4" stroke-linejoin="round"/>
<path d="M350.0,283.0 372.0,298.0 373.0,299.0 372.0,308.0 364.0,309.5 357.0,313.0 352.0,318.0 351.0,322.0 344.0,322.0 342.0,317.0 336.0,310.0 350.0,308.0Z" fill="#858585" stroke="#727272" stroke-width="0.4" stroke-linejoin="round"/>
<path d="M325.0,316.0 330.0,315.0 336.0,310.0 342.0,317.0 344.0,322.0 345.0,323.0 345.0,337.0 339.0,331.0 334.0,326.0 330.0,320.0Z" fill="#858585" stroke="#727272" stroke-width="0.4" stroke-linejoin="round"/>
<path d="M356.0,320.0 363.0,320.0 364.0,325.0 365.0,334.0 358.0,336.0 356.0,330.0Z" fill="#858585" stroke="#727272" stroke-width="0.4" stroke-linejoin="round"/>
<path d="M333.8,276.9 343.1,276.9 343.1,280.6 336.9,280.6 335.6,283.8 332.5,286.9 331.9,291.9 325.0,292.5 327.5,286.2 331.2,281.2Z" fill="url(#h)" stroke="#c8c8c8" stroke-width="0.6"/>
<path d="M384.0,342.0 396.0,342.0 398.0,350.0 394.0,358.0 390.0,360.0 386.0,354.0 383.0,349.0Z" fill="#858585" stroke="#727272" stroke-width="0.4" stroke-linejoin="round"/>
<path d="M392.0,364.0 400.0,365.0 408.0,368.0 414.0,370.0 417.0,378.0 412.0,382.0 414.0,392.0 410.0,394.0 400.0,394.0 391.0,394.0 390.0,388.0 393.0,376.0Z" fill="#858585" stroke="#727272" stroke-width="0.4" stroke-linejoin="round"/>
<path d="M432.0,354.0 444.0,352.0 454.0,360.0 453.0,366.0 456.0,376.0 444.0,380.0 438.0,374.0 431.0,364.0Z" fill="#858585" stroke="#727272" stroke-width="0.4" stroke-linejoin="round"/>
<path d="M444.0,380.0 456.0,376.0 455.0,386.0 448.0,394.0 442.0,400.0 442.0,408.0 438.0,414.0 436.0,410.0 436.0,400.0 440.0,396.0 442.0,390.0 441.0,384.0Z" fill="#858585" stroke="#727272" stroke-width="0.4" stroke-linejoin="round"/>
<path d="M408.0,396.0 420.0,394.0 426.0,396.0 430.0,404.0 426.0,410.0 418.0,416.0 410.0,418.0 409.0,410.0Z" fill="#858585" stroke="#727272" stroke-width="0.4" stroke-linejoin="round"/>
<path d="M422.0,392.0 434.0,386.0 438.0,390.0 438.0,400.0 430.0,404.0 426.0,396.0Z" fill="#858585" stroke="#727272" stroke-width="0.4" stroke-linejoin="round"/>
<path d="M423.0,424.0 427.0,423.0 428.0,428.0 424.0,429.0Z" fill="#858585" stroke="#727272" stroke-width="0.4" stroke-linejoin="round"/>
<path d="M431.0,416.0 435.0,415.0 436.0,419.0 432.0,420.0Z" fill="#858585" stroke="#727272" stroke-width="0.4" stroke-linejoin="round"/>
<path d="M475.2,380.2 477.5,383.2 477.9,388.5 476.0,394.5 473.0,403.5 470.0,411.8 464.8,415.9 461.0,412.5 460.6,406.5 463.2,399.8 463.2,393.0 470.0,389.2 473.4,384.8Z" fill="#b08ec2" stroke="#727272" stroke-width="0.4" stroke-linejoin="round"/>
<path d="M462.0,378.5 463.0,378.5 463.0,379.5 462.0,379.5ZM464.0,380.0 465.0,380.0 465.0,381.0 464.0,381.0Z" fill="#858585" stroke="none"/>
<path d="M2.0,290.7 3.2,291.0 3.0,291.8 2.0,291.6ZM5.0,292.0 6.3,292.3 6.0,293.2 5.0,293.0ZM7.0,293.3 9.5,294.2 9.3,295.0 7.0,294.0ZM9.3,296.0 11.5,297.0 10.8,298.5 9.2,299.3Z" fill="#858585" stroke="#727272" stroke-width="0.4" stroke-linejoin="round"/>
<path d="M610.0,297.0 614.0,298.0 613.6,300.5 610.4,300.5Z" fill="#858585" stroke="#727272" stroke-width="0.4" stroke-linejoin="round"/>
<path d="M305.2,304.2 305.8,304.2 305.8,304.8 305.2,304.8ZM308.2,306.2 308.8,306.2 308.8,306.8 308.2,306.8ZM306.7,309.2 307.8,309.2 307.8,309.8 306.7,309.8Z" fill="#858585" stroke="none"/>
<path d="M221.2,303.2 221.8,303.2 221.8,303.8 221.2,303.8ZM222.2,308.2 222.8,308.2 222.8,308.8 222.2,308.8ZM224.2,312.2 224.8,312.2 224.8,312.8 224.2,312.8Z" fill="#858585" stroke="none"/>
<path d="M541.0,270.5 550.0,272.8 560.6,276.5 559.8,278.8 550.0,277.3 542.5,274.3Z" fill="#858585" stroke="#727272" stroke-width="0.4" stroke-linejoin="round"/>
<path d="M187.5,196.5 192.8,191.2 201.3,186.9 207.7,184.8 210.9,182.7 214.1,183.7 219.5,186.9 221.6,189.1 218.4,193.3 217.3,199.7 215.2,202.9 209.9,206.1 208.8,210.4 205.6,214.7 203.5,212.5 203.5,207.2 199.2,204.0 190.7,201.9 188.5,199.7Z" fill="#fff" stroke="#fff" stroke-width="0.6"/>
<path d="M434.8,228.6 439.7,226.9 440.5,229.4 436.4,230.2Z" fill="#fff" stroke="#fff" stroke-width="0.6"/>
<path d="M460.3,231.9 464.4,228.6 471.0,227.8 471.8,229.4 467.7,232.7 472.7,239.3 476.8,241.8 475.1,242.6 473.5,244.2 477.6,247.5 478.4,251.7 473.5,252.5 468.5,249.2 467.7,243.4 464.4,236.8Z" fill="#fff" stroke="#fff" stroke-width="0.6"/>
<path d="M470.5,271.1 473.3,270.5 476.2,275.0 480.7,277.9 485.8,279.0 489.2,278.4 492.6,282.4 490.3,280.7 489.2,281.3 486.9,283.5 484.7,285.2 480.1,285.2 477.3,281.3 474.5,279.0 471.1,274.5Z" fill="#fff" stroke="#fff" stroke-width="0.6"/>
<path d="M437.0,275.5 441.0,275.0 447.5,283.5 450.5,290.0 455.5,298.0 461.0,306.0 464.0,313.0 462.0,316.0 456.5,309.5 451.0,301.5 447.0,293.5 443.0,284.0Z" fill="#fff" stroke="#fff" stroke-width="0.6"/>
<polyline points="458.0,219.0 468.0,215.0 482.0,214.0 482.0,209.0 498.0,206.0 510.0,209.0 522.0,214.0 534.0,218.0 540.0,221.0" fill="none" stroke="#6a6a6a" stroke-opacity="0.75" stroke-width="0.4" stroke-linejoin="round"/>
<polyline points="540.0,221.0 534.0,225.0 532.0,232.0 528.0,237.0 516.0,238.0 506.0,239.0 492.0,235.0 480.0,230.0 472.0,229.0" fill="none" stroke="#6a6a6a" stroke-opacity="0.75" stroke-width="0.4" stroke-linejoin="round"/>
<polyline points="458.0,219.0 457.0,223.0 462.0,230.0" fill="none" stroke="#6a6a6a" stroke-opacity="0.75" stroke-width="0.4" stroke-linejoin="round"/>
<polyline points="540.0,221.0 552.0,215.0 560.0,214.0 580.0,219.0 600.0,210.0 606.0,211.0 606.0,225.0 598.0,227.0 594.0,233.0 584.0,239.0 568.0,237.0 552.0,230.0 548.0,227.0 540.0,221.0" fill="none" stroke="#6a6a6a" stroke-opacity="0.75" stroke-width="0.4" stroke-linejoin="round"/>
<polyline points="480.0,230.0 492.0,245.0 506.0,249.0 516.0,244.0 528.0,243.0" fill="none" stroke="#6a6a6a" stroke-opacity="0.75" stroke-width="0.4" stroke-linejoin="round"/>
<polyline points="462.0,247.0 468.0,249.0" fill="none" stroke="#6a6a6a" stroke-opacity="0.75" stroke-width="0.4" stroke-linejoin="round"/>
<polyline points="478.4,251.7 484.0,251.0 496.0,255.0 506.0,251.0" fill="none" stroke="#6a6a6a" stroke-opacity="0.75" stroke-width="0.4" stroke-linejoin="round"/>
<polyline points="496.0,255.0 498.0,265.0 504.0,271.0 516.0,269.0 524.0,261.0 528.0,253.0 524.0,247.0 516.0,245.0 506.0,250.0" fill="none" stroke="#6a6a6a" stroke-opacity="0.75" stroke-width="0.4" stroke-linejoin="round"/>
<polyline points="528.0,253.0 528.0,259.0 520.0,275.0 516.0,287.0" fill="none" stroke="#6a6a6a" stroke-opacity="0.75" stroke-width="0.4" stroke-linejoin="round"/>
<polyline points="452.0,255.0 462.0,259.0 468.0,271.0 474.0,275.0" fill="none" stroke="#6a6a6a" stroke-opacity="0.75" stroke-width="0.4" stroke-linejoin="round"/>
<polyline points="440.0,265.0 452.0,269.0 464.0,273.0" fill="none" stroke="#6a6a6a" stroke-opacity="0.75" stroke-width="0.4" stroke-linejoin="round"/>
<polyline points="440.0,249.0 452.0,247.0 462.0,245.0" fill="none" stroke="#6a6a6a" stroke-opacity="0.75" stroke-width="0.4" stroke-linejoin="round"/>
<polyline points="452.0,241.0 462.0,241.0" fill="none" stroke="#6a6a6a" stroke-opacity="0.75" stroke-width="0.4" stroke-linejoin="round"/>
<polyline points="526.0,257.0 540.0,265.0 552.0,271.0 562.0,275.0" fill="none" stroke="#6a6a6a" stroke-opacity="0.75" stroke-width="0.4" stroke-linejoin="round"/>
<polyline points="580.0,275.0 584.0,285.0 592.0,289.0" fill="none" stroke="#6a6a6a" stroke-opacity="0.75" stroke-width="0.4" stroke-linejoin="round"/>
<polyline points="586.0,298.0 588.0,306.0 590.0,316.0" fill="none" stroke="#6a6a6a" stroke-opacity="0.75" stroke-width="0.4" stroke-linejoin="round"/>
<polyline points="580.0,276.0 582.0,286.0 586.0,294.0" fill="none" stroke="#6a6a6a" stroke-opacity="0.75" stroke-width="0.4" stroke-linejoin="round"/>
<polyline points="635.7,222.6 637.9,231.2 636.8,236.7 629.2,241.0 627.1,245.3" fill="none" stroke="#6a6a6a" stroke-opacity="0.75" stroke-width="0.4" stroke-linejoin="round"/>
<polyline points="590.0,216.0 602.0,210.0 618.0,216.0 630.0,220.0 635.7,222.6" fill="none" stroke="#6a6a6a" stroke-opacity="0.75" stroke-width="0.4" stroke-linejoin="round"/>
<polyline points="686.6,353.5 687.0,371.0" fill="none" stroke="#6a6a6a" stroke-opacity="0.75" stroke-width="0.4" stroke-linejoin="round"/>
<polyline points="620.0,351.0 634.0,344.0" fill="none" stroke="#6a6a6a" stroke-opacity="0.75" stroke-width="0.4" stroke-linejoin="round"/>
<polyline points="157.4,312.4 163.0,312.4" fill="none" stroke="#6a6a6a" stroke-opacity="0.75" stroke-width="0.4" stroke-linejoin="round"/>
<polyline points="172.2,319.5 176.0,322.5" fill="none" stroke="#6a6a6a" stroke-opacity="0.75" stroke-width="0.4" stroke-linejoin="round"/>
<polyline points="161.6,306.7 160.5,311.0" fill="none" stroke="#6a6a6a" stroke-opacity="0.75" stroke-width="0.4" stroke-linejoin="round"/>
<polyline points="452.0,269.0 458.0,280.0 470.0,290.0 478.0,296.0 490.0,294.0" fill="none" stroke="#6a6a6a" stroke-opacity="0.75" stroke-width="0.4" stroke-linejoin="round"/>
<polyline points="464.0,273.0 470.5,272.0" fill="none" stroke="#6a6a6a" stroke-opacity="0.75" stroke-width="0.4" stroke-linejoin="round"/>
<polyline points="458.0,302.0 470.0,300.0 486.0,296.0" fill="none" stroke="#6a6a6a" stroke-opacity="0.75" stroke-width="0.4" stroke-linejoin="round"/>
<polyline points="360.0,255.0 361.0,262.0 352.0,270.0 342.0,277.0 350.0,283.0" fill="none" stroke="#6a6a6a" stroke-opacity="0.75" stroke-width="0.4" stroke-linejoin="round"/>
<polyline points="350.0,283.0 350.0,308.0" fill="none" stroke="#6a6a6a" stroke-opacity="0.75" stroke-width="0.4" stroke-linejoin="round"/>
<polyline points="372.0,298.0 388.0,288.0" fill="none" stroke="#6a6a6a" stroke-opacity="0.75" stroke-width="0.4" stroke-linejoin="round"/>
<polyline points="370.0,314.0 386.0,314.0 397.0,312.0" fill="none" stroke="#6a6a6a" stroke-opacity="0.75" stroke-width="0.4" stroke-linejoin="round"/>
<polyline points="440.0,328.0 442.0,316.0 448.0,306.0" fill="none" stroke="#6a6a6a" stroke-opacity="0.75" stroke-width="0.4" stroke-linejoin="round"/>
<polyline points="448.0,338.0 458.0,338.0" fill="none" stroke="#6a6a6a" stroke-opacity="0.75" stroke-width="0.4" stroke-linejoin="round"/>
<polyline points="442.0,336.0 444.0,360.0" fill="none" stroke="#6a6a6a" stroke-opacity="0.75" stroke-width="0.4" stroke-linejoin="round"/>
<polyline points="326.0,305.0 335.0,308.0 350.0,308.0" fill="none" stroke="#6a6a6a" stroke-opacity="0.75" stroke-width="0.4" stroke-linejoin="round"/>
<polyline points="351.0,322.0 357.0,313.0 364.0,309.5 367.0,316.0 364.0,320.0" fill="none" stroke="#6a6a6a" stroke-opacity="0.75" stroke-width="0.4" stroke-linejoin="round"/>
<polyline points="364.0,320.0 365.0,334.0" fill="none" stroke="#6a6a6a" stroke-opacity="0.75" stroke-width="0.4" stroke-linejoin="round"/>
<polyline points="367.0,320.0 369.5,333.0" fill="none" stroke="#6a6a6a" stroke-opacity="0.75" stroke-width="0.4" stroke-linejoin="round"/>
<polyline points="371.0,313.0 372.0,323.0" fill="none" stroke="#6a6a6a" stroke-opacity="0.75" stroke-width="0.4" stroke-linejoin="round"/>
<polyline points="371.0,313.0 380.0,313.0 395.0,314.0" fill="none" stroke="#6a6a6a" stroke-opacity="0.75" stroke-width="0.4" stroke-linejoin="round"/>
<polyline points="395.0,317.0 389.0,330.0 384.0,335.0" fill="none" stroke="#6a6a6a" stroke-opacity="0.75" stroke-width="0.4" stroke-linejoin="round"/>
<polyline points="409.0,410.0 410.0,418.0 406.0,422.0 400.0,420.0" fill="none" stroke="#6a6a6a" stroke-opacity="0.75" stroke-width="0.4" stroke-linejoin="round"/>
<polyline points="412.0,370.0 418.0,378.0 430.0,380.0 432.0,370.0" fill="none" stroke="#6a6a6a" stroke-opacity="0.75" stroke-width="0.4" stroke-linejoin="round"/>
<polyline points="396.0,342.0 400.0,356.0 398.0,364.0" fill="none" stroke="#6a6a6a" stroke-opacity="0.75" stroke-width="0.4" stroke-linejoin="round"/>
<polyline points="432.0,338.0 432.0,352.0 430.0,362.0" fill="none" stroke="#6a6a6a" stroke-opacity="0.75" stroke-width="0.4" stroke-linejoin="round"/>
<polyline points="397.0,312.0 398.0,330.0" fill="none" stroke="#6a6a6a" stroke-opacity="0.75" stroke-width="0.4" stroke-linejoin="round"/>
<polyline points="418.0,298.0 418.0,292.0" fill="none" stroke="#6a6a6a" stroke-opacity="0.75" stroke-width="0.4" stroke-linejoin="round"/>
<polyline points="178.0,346.0 186.0,350.0 190.0,351.0" fill="none" stroke="#6a6a6a" stroke-opacity="0.75" stroke-width="0.4" stroke-linejoin="round"/>
<polyline points="190.0,351.0 200.0,358.0 203.0,358.0" fill="none" stroke="#6a6a6a" stroke-opacity="0.75" stroke-width="0.4" stroke-linejoin="round"/>
<polyline points="203.0,358.0 201.0,350.0 208.0,345.0 204.0,342.0" fill="none" stroke="#6a6a6a" stroke-opacity="0.75" stroke-width="0.4" stroke-linejoin="round"/>
<polyline points="203.0,358.0 196.0,364.0 194.0,370.0 200.0,375.0 204.0,376.0" fill="none" stroke="#6a6a6a" stroke-opacity="0.75" stroke-width="0.4" stroke-linejoin="round"/>
<polyline points="236.0,428.0 242.0,417.0" fill="none" stroke="#6a6a6a" stroke-opacity="0.75" stroke-width="0.4" stroke-linejoin="round"/>
<polyline points="236.0,428.0 248.0,435.0" fill="none" stroke="#6a6a6a" stroke-opacity="0.75" stroke-width="0.4" stroke-linejoin="round"/>
<polyline points="241.0,419.0 236.0,428.0" fill="none" stroke="#6a6a6a" stroke-opacity="0.75" stroke-width="0.4" stroke-linejoin="round"/>
<polyline points="200.0,320.0 204.0,330.0 208.0,344.0" fill="none" stroke="#6a6a6a" stroke-opacity="0.75" stroke-width="0.4" stroke-linejoin="round"/>
<polyline points="176.0,360.0 182.0,358.0 190.0,351.0" fill="none" stroke="#6a6a6a" stroke-opacity="0.75" stroke-width="0.4" stroke-linejoin="round"/>
<polyline points="370.0,210.0 373.3,214.2 375.8,220.0 376.7,224.2 375.0,226.7 376.7,228.3" fill="none" stroke="#6a6a6a" stroke-opacity="0.75" stroke-width="0.4" stroke-linejoin="round"/>
<polyline points="390.8,207.5 391.7,213.3 392.5,216.7" fill="none" stroke="#6a6a6a" stroke-opacity="0.75" stroke-width="0.4" stroke-linejoin="round"/>
<polyline points="387.5,217.5 392.5,216.7 400.0,220.0" fill="none" stroke="#6a6a6a" stroke-opacity="0.75" stroke-width="0.4" stroke-linejoin="round"/>
<polyline points="377.5,224.2 384.2,223.3 388.3,222.5 391.7,223.3" fill="none" stroke="#6a6a6a" stroke-opacity="0.75" stroke-width="0.4" stroke-linejoin="round"/>
<polyline points="409.2,204.2 410.0,215.0" fill="none" stroke="#6a6a6a" stroke-opacity="0.75" stroke-width="0.4" stroke-linejoin="round"/>
<polyline points="395.0,220.0 400.0,220.0 408.3,220.0" fill="none" stroke="#6a6a6a" stroke-opacity="0.75" stroke-width="0.4" stroke-linejoin="round"/>
<polyline points="397.5,222.5 396.7,226.7" fill="none" stroke="#6a6a6a" stroke-opacity="0.75" stroke-width="0.4" stroke-linejoin="round"/>
<polyline points="375.8,226.7 384.2,226.7" fill="none" stroke="#6a6a6a" stroke-opacity="0.75" stroke-width="0.4" stroke-linejoin="round"/>
<polyline points="405.0,200.0 413.3,200.0" fill="none" stroke="#6a6a6a" stroke-opacity="0.75" stroke-width="0.4" stroke-linejoin="round"/>
<polyline points="402.5,203.0 415.0,203.8" fill="none" stroke="#6a6a6a" stroke-opacity="0.75" stroke-width="0.4" stroke-linejoin="round"/>
<polyline points="410.0,204.2 416.7,203.3 423.3,204.2" fill="none" stroke="#6a6a6a" stroke-opacity="0.75" stroke-width="0.4" stroke-linejoin="round"/>
<polyline points="346.9,237.7 349.1,240.9 348.5,248.5 346.9,252.8" fill="none" stroke="#6a6a6a" stroke-opacity="0.75" stroke-width="0.4" stroke-linejoin="round"/>
<polyline points="359.9,235.5 370.7,237.7" fill="none" stroke="#6a6a6a" stroke-opacity="0.75" stroke-width="0.4" stroke-linejoin="round"/>
<polyline points="384.2,200.0 385.0,185.8 390.8,176.7 398.3,172.5 403.3,174.2 403.3,180.0" fill="none" stroke="#6a6a6a" stroke-opacity="0.75" stroke-width="0.4" stroke-linejoin="round"/>
<polyline points="403.3,180.0 401.7,173.3 405.8,170.0" fill="none" stroke="#6a6a6a" stroke-opacity="0.75" stroke-width="0.4" stroke-linejoin="round"/>
<polyline points="398.3,171.7 406.7,172.5 413.3,170.0" fill="none" stroke="#6a6a6a" stroke-opacity="0.75" stroke-width="0.4" stroke-linejoin="round"/>
<polyline points="395.0,229.0 403.0,229.0" fill="none" stroke="#6a6a6a" stroke-opacity="0.75" stroke-width="0.4" stroke-linejoin="round"/>
<polyline points="410.0,235.0 410.0,238.0" fill="none" stroke="#6a6a6a" stroke-opacity="0.75" stroke-width="0.4" stroke-linejoin="round"/>
<polyline points="414.0,240.5 419.0,240.5" fill="none" stroke="#6a6a6a" stroke-opacity="0.75" stroke-width="0.4" stroke-linejoin="round"/>
<polyline points="370.7,212.7 377.2,214.9" fill="none" stroke="#6a6a6a" stroke-opacity="0.75" stroke-width="0.4" stroke-linejoin="round"/>
<polyline points="372.9,216.5 377.2,218.2" fill="none" stroke="#6a6a6a" stroke-opacity="0.75" stroke-width="0.4" stroke-linejoin="round"/>
<polyline points="403.0,229.0 406.0,230.0" fill="none" stroke="#6a6a6a" stroke-opacity="0.75" stroke-width="0.4" stroke-linejoin="round"/>
<rect x="332.5" y="537.5" width="48" height="11" fill="url(#h)" stroke="#c8c8c8" stroke-width="0.8"/>
<rect x="400" y="537" width="59" height="12" fill="#858585"/>
<rect x="459" y="537" width="58" height="12" fill="#b08ec2"/>
<line x1="356.5" y1="534" x2="356.5" y2="538" stroke="#aaa" stroke-width="0.9"/>
<line x1="429.5" y1="534" x2="429.5" y2="538" stroke="#aaa" stroke-width="0.9"/>
<line x1="488.5" y1="534" x2="488.5" y2="538" stroke="#aaa" stroke-width="0.9"/>
</svg><div class="t lg" style="left:333.5px;top:518px;">No data</div>
<div class="t lg" style="left:421px;top:518px;">No</div>
<div class="t lg" style="left:476.5px;top:518px;">Yes</div>
<div class="t ft" style="left:17px;top:569px;letter-spacing:-0.02px"><b style="letter-spacing:-0.5px">Data source:</b> Convention on Biological Diversity</div>
<div class="t ft" style="left:599px;top:569px;">OurWorldinData.org/biodiversity | CC BY</div>
</body></html>
